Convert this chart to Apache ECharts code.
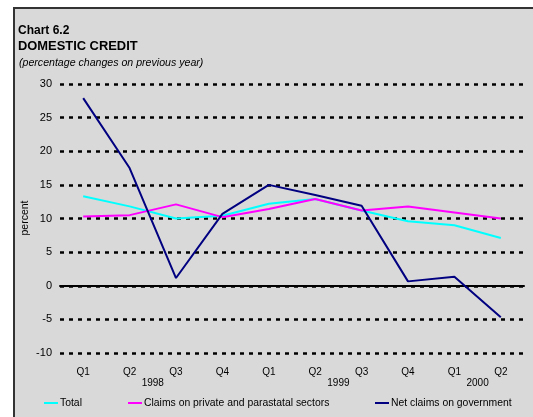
<!DOCTYPE html>
<html>
<head>
<meta charset="utf-8">
<script src="https://cdn.jsdelivr.net/npm/echarts@6/dist/echarts.min.js"></script>
<style>
html,body{margin:0;padding:0;background:#fff;}
#bg{position:absolute;left:13px;top:7px;width:520px;height:410px;background:#d9d9d9;border-left:2px solid #333;border-top:2px solid #333;box-sizing:border-box;}
#chart{position:absolute;left:0;top:0;width:533px;height:417px;}
</style>
</head>
<body>
<div id="bg"></div>
<div id="chart"></div>
<script>
const quarters = ['Q1','Q2','Q3','Q4','Q1','Q2','Q3','Q4','Q1','Q2'];
const yearLabels = ['', '', '1998', '', '', '', '1999', '', '', '2000', ''];
const total = [13.3, 11.8, 10.0, 10.4, 12.2, 12.9, 11.2, 9.6, 9.0, 7.1];
const claimsPrivate = [10.3, 10.5, 12.1, 10.2, 11.4, 12.9, 11.2, 11.8, 10.9, 10.0];
const netGovernment = [27.9, 17.5, 1.15, 10.7, 15.0, 13.5, 11.9, 0.65, 1.35, -4.7];
const seriesNames = ['Total', 'Claims on private and parastatal sectors', 'Net claims on government'];
const yTicks = {min: -10, max: 30, interval: 5};

const chart = echarts.init(document.getElementById('chart'), null, {renderer: 'canvas'});
const font = 'Liberation Sans, Arial, sans-serif';
const legendBase = {
  orient: 'horizontal', top: 398, icon: 'rect', itemWidth: 14, itemHeight: 2, padding: 0,
  textStyle: {fontFamily: font, fontSize: 10.4, color: '#000', padding: [0,0,0,-3]},
  selectedMode: false
};
chart.setOption({
  animation: false,
  backgroundColor: 'transparent',
  textStyle: {fontFamily: font},
  graphic: [
    {type: 'text', left: 18, top: 25, style: {text: 'Chart 6.2', font: 'bold 12px ' + font, fill: '#000'}},
    {type: 'text', left: 18, top: 40, style: {text: 'DOMESTIC CREDIT', font: 'bold 12.9px ' + font, fill: '#000'}},
    {type: 'text', left: 19, top: 58, style: {text: '(percentage changes on previous year)', font: 'italic 10.6px ' + font, fill: '#000'}},
    {type: 'text', x: 25, y: 218, rotation: Math.PI / 2, style: {text: 'percent', font: '10.5px ' + font, fill: '#000', align: 'center', verticalAlign: 'middle'}}
  ],
  legend: [
    Object.assign({}, legendBase, {left: 44, data: [seriesNames[0]]}),
    Object.assign({}, legendBase, {left: 128, data: [seriesNames[1]]}),
    Object.assign({}, legendBase, {left: 375, data: [seriesNames[2]]})
  ],
  grid: {left: 60, right: 9, top: 84, bottom: 64},
  xAxis: [
    {
      type: 'category', data: quarters, boundaryGap: true,
      axisLine: {onZero: true, lineStyle: {color: '#000', width: 2}},
      axisTick: {show: false},
      axisLabel: {color: '#000', fontSize: 10, margin: 14, fontFamily: font}
    },
    {
      type: 'category', data: yearLabels, boundaryGap: false, position: 'bottom',
      axisLine: {show: false}, axisTick: {show: false},
      axisLabel: {color: '#000', fontSize: 10, margin: 25, interval: 0, fontFamily: font}
    }
  ],
  yAxis: {
    type: 'value', min: yTicks.min, max: yTicks.max, interval: yTicks.interval,
    axisLine: {show: false}, axisTick: {show: false},
    axisLabel: {color: '#000', fontSize: 11, margin: 8, fontFamily: font},
    splitLine: {show: true, lineStyle: {color: '#000', width: 2.5, type: [4, 5]}}
  },
  series: [
    {name: seriesNames[0], type: 'line', data: total, symbol: 'none', lineStyle: {color: '#00ffff', width: 2}, itemStyle: {color: '#00ffff'}},
    {name: seriesNames[1], type: 'line', data: claimsPrivate, symbol: 'none', lineStyle: {color: '#ff00ff', width: 2}, itemStyle: {color: '#ff00ff'}},
    {name: seriesNames[2], type: 'line', data: netGovernment, symbol: 'none', lineStyle: {color: '#000080', width: 2}, itemStyle: {color: '#000080'}}
  ]
});
</script>
</body>
</html>
